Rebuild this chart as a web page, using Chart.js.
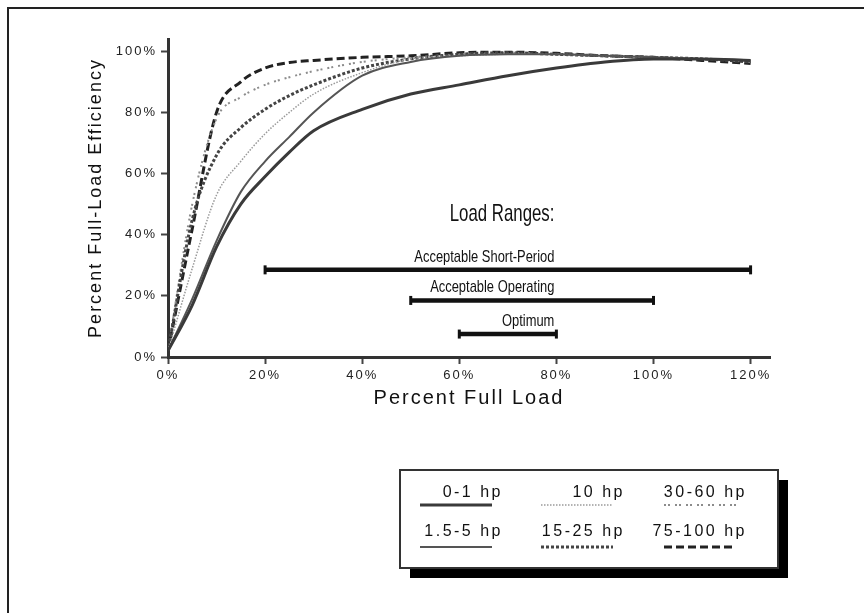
<!DOCTYPE html>
<html>
<head>
<meta charset="utf-8">
<title>Motor Part-Load Efficiency</title>
<script src="https://cdn.jsdelivr.net/npm/chart.js@4.4.1/dist/chart.umd.min.js"></script>
<style>
  html, body { margin: 0; padding: 0; background: #fff; }
  #wrap { width: 864px; height: 613px; }
</style>
</head>
<body>
<div id="wrap"><canvas id="effChart" width="864" height="613"></canvas></div>
<script>
// percent of full load (x axis)
const loadPct = [0, 5, 10, 15, 20, 25, 30, 40, 50, 60, 70, 80, 90, 100, 110, 120];

// percent of full-load efficiency, one list per motor size
const hp0to1    = [2, 17, 36, 50, 59, 67, 74, 81, 86, 89, 92, 94.5, 96.5, 97.5, 97.5, 97];
const hp1_5to5  = [2, 19, 38, 54, 64, 72, 80, 92, 96.5, 98.5, 99, 99, 98.5, 98, 97.5, 97];
const hp10      = [2, 29, 53, 64, 73, 80, 86, 93, 97.5, 98.5, 99, 99, 98.5, 98, 97.5, 97];
const hp15to25  = [2, 45, 66, 75, 81, 85.5, 89, 94.5, 97.5, 99, 99.5, 99, 98.5, 98, 97.5, 96.5];
const hp30to60  = [2, 50, 78, 85, 89, 91.5, 93.5, 96.5, 98, 99, 99.5, 99, 98.5, 98, 97.5, 96.5];
const hp75to100 = [2, 42, 80, 90, 94.5, 96.3, 97, 98, 98.5, 99.5, 99.7, 99.3, 98.5, 98, 97, 96];

const seriesNames = ['0-1 hp', '1.5-5 hp', '10 hp', '15-25 hp', '30-60 hp', '75-100 hp'];
const seriesValues = [hp0to1, hp1_5to5, hp10, hp15to25, hp30to60, hp75to100];

// load ranges drawn as horizontal bars
const rangeNames = ['Acceptable Short-Period', 'Acceptable Operating', 'Optimum'];
const rangeFrom  = [20, 50, 60];
const rangeTo    = [120, 100, 80];
const rangeLevel = [28.5, 18.5, 7.5];

const xTicks = [0, 20, 40, 60, 80, 100, 120];
const yTicks = [0, 20, 40, 60, 80, 100];

// line looks, same order as seriesNames
const lineStyles = [
  { color: '#3a3a3a', width: 3,   dash: [] },
  { color: '#555',    width: 2,   dash: [] },
  { color: '#9a9a9a', width: 1.5, dash: [1.5, 1.5] },
  { color: '#444',    width: 3,   dash: [3, 2] },
  { color: '#8c8c8c', width: 2,   dash: [2, 2, 2, 5] },
  { color: '#222',    width: 3,   dash: [8, 4] }
];

const curveSets = seriesNames.map((name, i) => ({
  label: name,
  data: loadPct.map((x, j) => ({ x: x, y: seriesValues[i][j] })),
  borderColor: lineStyles[i].color,
  borderWidth: lineStyles[i].width,
  borderDash: lineStyles[i].dash,
  pointRadius: 0,
  fill: false,
  cubicInterpolationMode: 'monotone'
}));

const rangeSets = rangeNames.map((name, i) => ({
  label: name,
  data: [{ x: rangeFrom[i], y: rangeLevel[i] }, { x: rangeTo[i], y: rangeLevel[i] }],
  borderColor: '#111',
  borderWidth: 4.5,
  pointStyle: 'line',
  rotation: 90,
  pointRadius: 4.5,
  pointBorderWidth: 3,
  pointBorderColor: '#111',
  tension: 0
}));

function narrowText(ctx, text, xr, yb, size, squeeze) {
  ctx.save();
  ctx.translate(xr, yb);
  ctx.scale(squeeze, 1);
  ctx.font = size + 'px "Liberation Sans", Arial, sans-serif';
  ctx.fillStyle = '#111';
  ctx.textAlign = 'right';
  ctx.textBaseline = 'alphabetic';
  ctx.fillText(text, 0, 0);
  ctx.restore();
}

const decor = {
  id: 'decor',
  beforeDraw(chart) {
    chart.ctx.letterSpacing = '2px';
  },
  afterDraw(chart) {
    const { ctx, scales: { x, y } } = chart;
    ctx.save();
    ctx.letterSpacing = '0px';

    // page frame (top and left only)
    ctx.strokeStyle = '#222';
    ctx.lineWidth = 2;
    ctx.beginPath();
    ctx.moveTo(8, 613);
    ctx.lineTo(8, 8);
    ctx.lineTo(864, 8);
    ctx.stroke();

    // load range captions
    const right = x.getPixelForValue(80) - 2;
    narrowText(ctx, 'Load Ranges:', right, y.getPixelForValue(rangeLevel[0]) - 49, 24, 0.7);
    rangeNames.forEach((name, i) => {
      narrowText(ctx, name, right, y.getPixelForValue(rangeLevel[i]) - 8, 17, 0.76);
    });

    // legend box with drop shadow
    ctx.fillStyle = '#000';
    ctx.fillRect(410, 480, 378, 98);
    ctx.fillStyle = '#fff';
    ctx.fillRect(400, 470, 378, 98);
    ctx.strokeStyle = '#333';
    ctx.lineWidth = 2;
    ctx.strokeRect(400, 470, 378, 98);

    const textRight = [503, 625, 747];
    const textBase = [497, 536];
    const lineLeft = [420, 541, 664];
    const lineY = [505, 547];
    ctx.font = '16px "Liberation Sans", Arial, sans-serif';
    ctx.letterSpacing = '2.5px';
    ctx.textAlign = 'right';
    ctx.fillStyle = '#111';
    seriesNames.forEach((name, i) => {
      const col = Math.floor(i / 2), row = i % 2;
      ctx.fillText(name, textRight[col], textBase[row]);
      ctx.save();
      ctx.strokeStyle = lineStyles[i].color;
      ctx.lineWidth = lineStyles[i].width;
      ctx.setLineDash(lineStyles[i].dash);
      ctx.beginPath();
      ctx.moveTo(lineLeft[col], lineY[row]);
      ctx.lineTo(lineLeft[col] + 72, lineY[row]);
      ctx.stroke();
      ctx.restore();
    });
    ctx.restore();
  }
};

new Chart(document.getElementById('effChart'), {
  type: 'line',
  data: { datasets: curveSets.concat(rangeSets) },
  options: {
    responsive: false,
    animation: false,
    layout: { padding: { left: 80, top: 39, right: 94, bottom: 203 } },
    plugins: { legend: { display: false }, tooltip: { enabled: false } },
    scales: {
      x: {
        type: 'linear',
        min: 0,
        max: 124,
        afterBuildTicks: (s) => { s.ticks = xTicks.map(v => ({ value: v })); },
        afterFit: (s) => { s.height = 53; },
        ticks: { callback: (v) => v + '%', font: { size: 13, family: '"Liberation Sans", Arial' }, color: '#222', padding: 4, maxRotation: 0 },
        grid: { drawOnChartArea: false, drawTicks: true, tickLength: 7, tickWidth: 2, tickColor: '#444' },
        border: { display: true, color: '#333', width: 3 },
        title: { display: true, text: 'Percent Full Load', color: '#111', font: { size: 20, family: '"Liberation Sans", Arial' }, padding: { top: 3, bottom: 0 } }
      },
      y: {
        type: 'linear',
        min: 0,
        max: 104,
        afterBuildTicks: (s) => { s.ticks = yTicks.map(v => ({ value: v })); },
        afterFit: (s) => { s.width = 88; },
        ticks: { callback: (v) => v + '%', font: { size: 13, family: '"Liberation Sans", Arial' }, color: '#222', padding: 4 },
        grid: { drawOnChartArea: false, drawTicks: true, tickLength: 7, tickWidth: 2, tickColor: '#444' },
        border: { display: true, color: '#333', width: 3 },
        title: { display: true, text: 'Percent Full-Load Efficiency', color: '#111', font: { size: 18, family: '"Liberation Sans", Arial' }, padding: { top: 5, bottom: 0 } }
      }
    }
  },
  plugins: [decor]
});
</script>
</body>
</html>
